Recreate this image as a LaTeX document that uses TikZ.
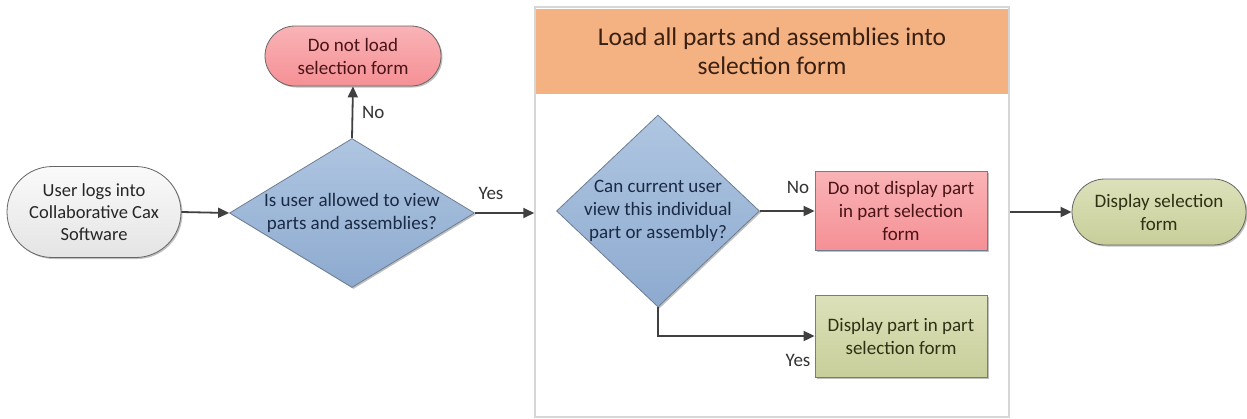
\documentclass[tikz,border=0pt]{standalone}
\usepackage{fontspec}
\setmainfont{Carlito}
\usetikzlibrary{shapes.geometric,shapes.misc,arrows.meta,shadows}

\definecolor{linegray}{HTML}{404040}
\definecolor{bluefillA}{HTML}{AFC6E1}
\definecolor{bluefillB}{HTML}{8DAACF}
\definecolor{blueedge}{HTML}{6E7E92}
\definecolor{bluetext}{HTML}{1B2A44}
\definecolor{redfillA}{HTML}{F9B3B6}
\definecolor{redfillB}{HTML}{F59095}
\definecolor{redtext}{HTML}{4A1416}
\definecolor{greenfillA}{HTML}{DDE1BA}
\definecolor{greenfillB}{HTML}{C8CE9A}
\definecolor{greentext}{HTML}{2E3114}
\definecolor{grayfillA}{HTML}{FAFAFA}
\definecolor{grayfillB}{HTML}{E4E4E4}
\definecolor{headerfill}{HTML}{F4B282}
\definecolor{headertext}{HTML}{3A2012}
\definecolor{laneedge}{HTML}{D6D6D6}

\tikzset{
  x=1pt, y=-1pt,
  nodefont/.style={font=\fontsize{19}{23}\selectfont},
  base/.style={nodefont, align=center, inner sep=0pt,
    draw=linegray!80, line width=0.8pt,
    drop shadow={shadow xshift=1.5pt, shadow yshift=-1.5pt, opacity=0.25, fill=black}},
  terminal/.style={base, rounded rectangle},
  startterm/.style={terminal, top color=grayfillA, bottom color=grayfillB, text=black!85},
  redterm/.style={terminal, top color=redfillA, bottom color=redfillB, text=redtext},
  greenterm/.style={terminal, top color=greenfillA, bottom color=greenfillB, text=greentext},
  decision/.style={base, diamond, draw=blueedge, top color=bluefillA, bottom color=bluefillB},
  redbox/.style={base, rectangle, draw=blueedge, top color=redfillA, bottom color=redfillB, text=redtext},
  greenbox/.style={base, rectangle, draw=blueedge, top color=greenfillA, bottom color=greenfillB, text=greentext},
  dectext/.style={nodefont, align=center, text=bluetext, inner sep=0pt},
  flow/.style={draw=linegray, line width=1.8pt,
    -{Triangle[length=11pt, width=10pt]}},
  edgelabel/.style={font=\fontsize{19}{22}\selectfont, text=black!80, inner sep=0pt},
}

\begin{document}
\begin{tikzpicture}
\useasboundingbox (0,0) rectangle (1247,418);

% container lane with its header
\node[draw=laneedge, line width=1.5pt, fill=white, minimum width=474pt, minimum height=410pt,
      inner sep=0pt] (lane) at (772,212) {};
\node[fill=headerfill, minimum width=472pt, minimum height=85pt, inner sep=0pt,
      font=\fontsize{25.5}{29}\selectfont, align=center, text=headertext]
      (header) at (772,51) {Load all parts and assemblies into\\selection form};

% left part of the flow
\node[startterm, minimum width=174pt, minimum height=91pt,
      font=\fontsize{18.5}{22}\selectfont] (start) at (94,212)
  {User logs into\\Collaborative Cax\\Software};
\node[decision, minimum width=245pt, minimum height=149pt] (allowed) at (352,213) {};
\node[dectext] at (allowed.center) {Is user allowed to view\\parts and assemblies?};
\node[redterm, minimum width=176pt, minimum height=60pt] (noload) at (353,56)
  {Do not load\\selection form};

% inside the lane
\node[decision, minimum width=203pt, minimum height=192pt] (canview) at (658,211) {};
\node[dectext] at (canview.center) {Can current user\\view this individual\\part or assembly?};
\node[redbox, minimum width=172pt, minimum height=79pt] (hide) at (901,211)
  {Do not display part\\in part selection\\form};
\node[greenbox, minimum width=172pt, minimum height=82pt] (show) at (901,336)
  {Display part in part\\selection form};

% final terminal
\node[greenterm, minimum width=174pt, minimum height=66pt] (final) at (1159,212)
  {Display selection\\form};

% connectors
\draw[flow] (start.east) -- (allowed.west);
\draw[flow] (allowed.north) -- (noload.south);
\draw[flow] (allowed.east) -- (allowed.east -| lane.west);
\draw[flow] (canview.east) -- (hide.west);
\draw[flow] (canview.south) |- (show.west);
\draw[flow] (lane.east |- final.west) -- (final.west);

% branch labels
\node[edgelabel, anchor=west] (lno) at (362,112) {No};
\node[edgelabel] (lyes) at (491,193) {Yes};
\node[edgelabel] (lno2) at (798,187) {No};
\node[edgelabel] (lyes2) at (798,360) {Yes};
\end{tikzpicture}
\end{document}
